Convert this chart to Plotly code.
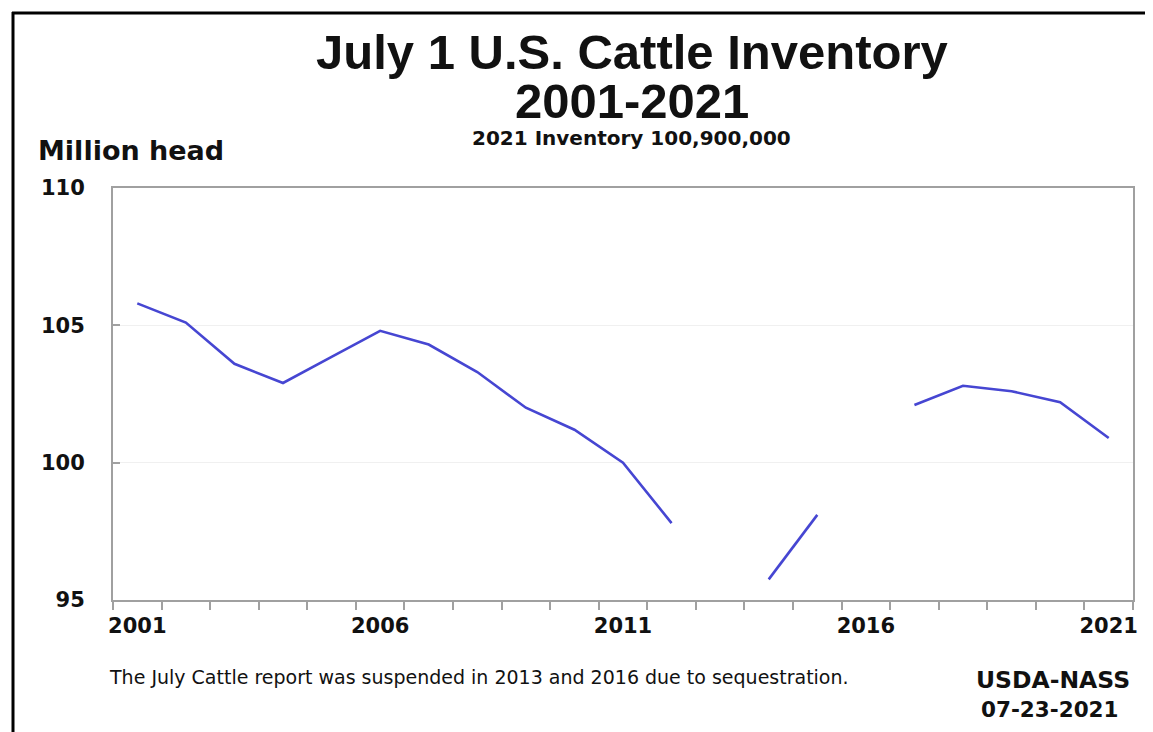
import plotly.graph_objects as go

years = list(range(2001, 2022))
inventory = [105.8, 105.1, 103.6, 102.9, 103.85, 104.8, 104.3, 103.3, 102.0, 101.2,
             100.0, 97.8, None, 95.75, 98.1, None, 102.1, 102.8, 102.6, 102.2, 100.9]
x_tick_vals = [2001, 2006, 2011, 2016, 2021]
y_tick_vals = [95, 100, 105, 110]

OFF = 8  # page body margin in the browser
L, R, T, B = 113 - OFF, 1133 - OFF, 188 - OFF, 600 - OFF
W, H = 1153 - OFF, 732 - OFF

def px(x):
    return (x - OFF - L) / (R - L)

def py(y):
    return (B - (y - OFF)) / (B - T)

fig = go.Figure()
fig.add_trace(go.Scatter(x=years, y=inventory, mode="lines",
                         line=dict(color="#4646D2", width=2.6),
                         connectgaps=False, showlegend=False, hoverinfo="x+y"))

f_title = "Liberation Sans, Arial, sans-serif"
f_wide = "DejaVu Sans, Verdana, sans-serif"

anns = [
    dict(text="<b>July 1 U.S. Cattle Inventory</b>", x=632, y=52, size=49, family=f_title),
    dict(text="<b>2001-2021</b>", x=632, y=101, size=49, family=f_title),
    dict(text="<b>2021 Inventory 100,900,000</b>", x=631, y=138, size=20, family=f_wide),
    dict(text="<b>Million head</b>", x=131, y=150, size=27, family=f_wide),
    dict(text="The July Cattle report was suspended in 2013 and 2016 due to sequestration.",
         x=479, y=677, size=19, family=f_wide),
    dict(text="<b>USDA-NASS</b>", x=1053, y=680, size=23.5, family=f_wide),
    dict(text="<b>07-23-2021</b>", x=1050, y=709, size=21.5, family=f_wide),
]
for a in anns:
    fig.add_annotation(text=a["text"], x=px(a["x"]), y=py(a["y"]), xref="paper", yref="paper",
                       xanchor="center", yanchor="middle", showarrow=False,
                       font=dict(size=a["size"], family=a["family"], color="#111111"))

# outer frame (left and top edges)
fig.add_shape(type="line", xref="paper", yref="paper", x0=px(13), x1=px(13), y0=py(12), y1=py(745),
              line=dict(color="black", width=3))
fig.add_shape(type="line", xref="paper", yref="paper", x0=px(12), x1=px(1170), y0=py(13), y1=py(13),
              line=dict(color="black", width=3))

fig.update_xaxes(range=[2000.5, 2021.5], tickvals=x_tick_vals,
                 ticktext=["<b>%d</b>" % v for v in x_tick_vals],
                 ticks="", showgrid=False, zeroline=False,
                 showline=True, linecolor="#a0a0a0", linewidth=2, mirror=True,
                 ticklabelstandoff=6,
                 tickfont=dict(size=21, family=f_wide, color="#111111"),
                 minor=dict(ticks="outside", tick0=2000.5, dtick=1, ticklen=8, tickcolor="#a0a0a0",
                            tickwidth=1.5, showgrid=False))
fig.update_yaxes(range=[95, 110], tickvals=y_tick_vals,
                 ticktext=["<b>%d</b>" % v for v in y_tick_vals],
                 ticks="inside", ticklen=7, tickcolor="#a0a0a0", tickwidth=1.5,
                 showgrid=True, gridcolor="#f0f0f0", gridwidth=1, zeroline=False,
                 showline=True, linecolor="#a0a0a0", linewidth=2, mirror=True,
                 ticklabelstandoff=22,
                 tickfont=dict(size=21, family=f_wide, color="#111111"))

fig.update_layout(width=W, height=H, margin=dict(l=L, r=W - R, t=T, b=H - B),
                  paper_bgcolor="white", plot_bgcolor="white", showlegend=False)

fig.write_html("out.html")
